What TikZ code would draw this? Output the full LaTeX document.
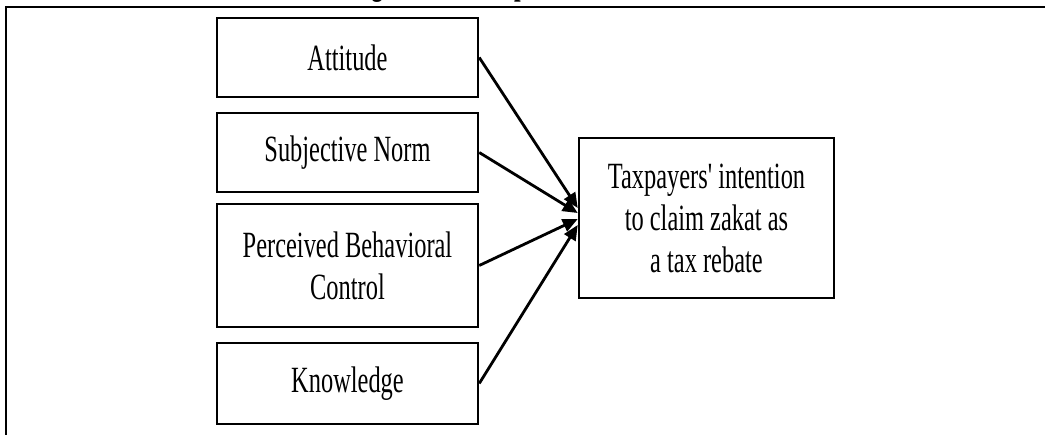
\documentclass[tikz,border=0pt]{standalone}
\usepackage{fontspec}
\newfontfamily\condfont[FakeStretch=0.66]{Liberation Serif}
\usetikzlibrary{arrows.meta}
\tikzset{
  box/.style={draw=black, line width=2.5pt, align=center, inner sep=0pt,
    font=\condfont\fontsize{37}{42}\selectfont},
  link/.style={line width=2.8pt, -{Triangle[length=15pt,width=13pt]}},
  frameline/.style={line width=1.8pt}
}
\begin{document}
\begin{tikzpicture}[x=1pt,y=-1pt]
\useasboundingbox (0,0) rectangle (1045,435);
\clip (0,0) rectangle (1045,435);
% title (mostly cut off by the top edge)
\node[anchor=base west, inner sep=0pt, font=\condfont\bfseries\fontsize{36}{42}\selectfont] (title) at (350,-5) {Figure 1: Conceptual Framework};
% frame
\coordinate (fc) at (6,7);
\coordinate (fr) at (1045,7);
\coordinate (fb) at (6,435);
\draw[frameline] (fb) -- (fc) -- (fr);
% boxes
\node[box, minimum width=261pt, minimum height=79pt] (att) at (347.5,57.5) {Attitude};
\node[box, minimum width=261pt, minimum height=79pt] (sub) at (347.5,152.5) {Subjective Norm};
\node[box, minimum width=261pt, minimum height=123pt] (pbc) at (347.5,265.5) {Perceived Behavioral\\Control};
\node[box, minimum width=261pt, minimum height=81pt] (kn) at (347.5,383.5) {Knowledge};
\node[box, minimum width=255pt, minimum height=160pt] (tgt) at (706.5,218) {Taxpayers' intention\\to claim zakat as\\a tax rebate};
% connectors
\draw[link] (att.east) -- ([yshift=10pt]tgt.west);
\draw[link] (sub.east) -- ([yshift=5pt]tgt.west);
\draw[link] (pbc.east) -- ([yshift=-1pt]tgt.west);
\draw[link] (kn.east) -- ([yshift=-7pt]tgt.west);
\end{tikzpicture}
\end{document}
